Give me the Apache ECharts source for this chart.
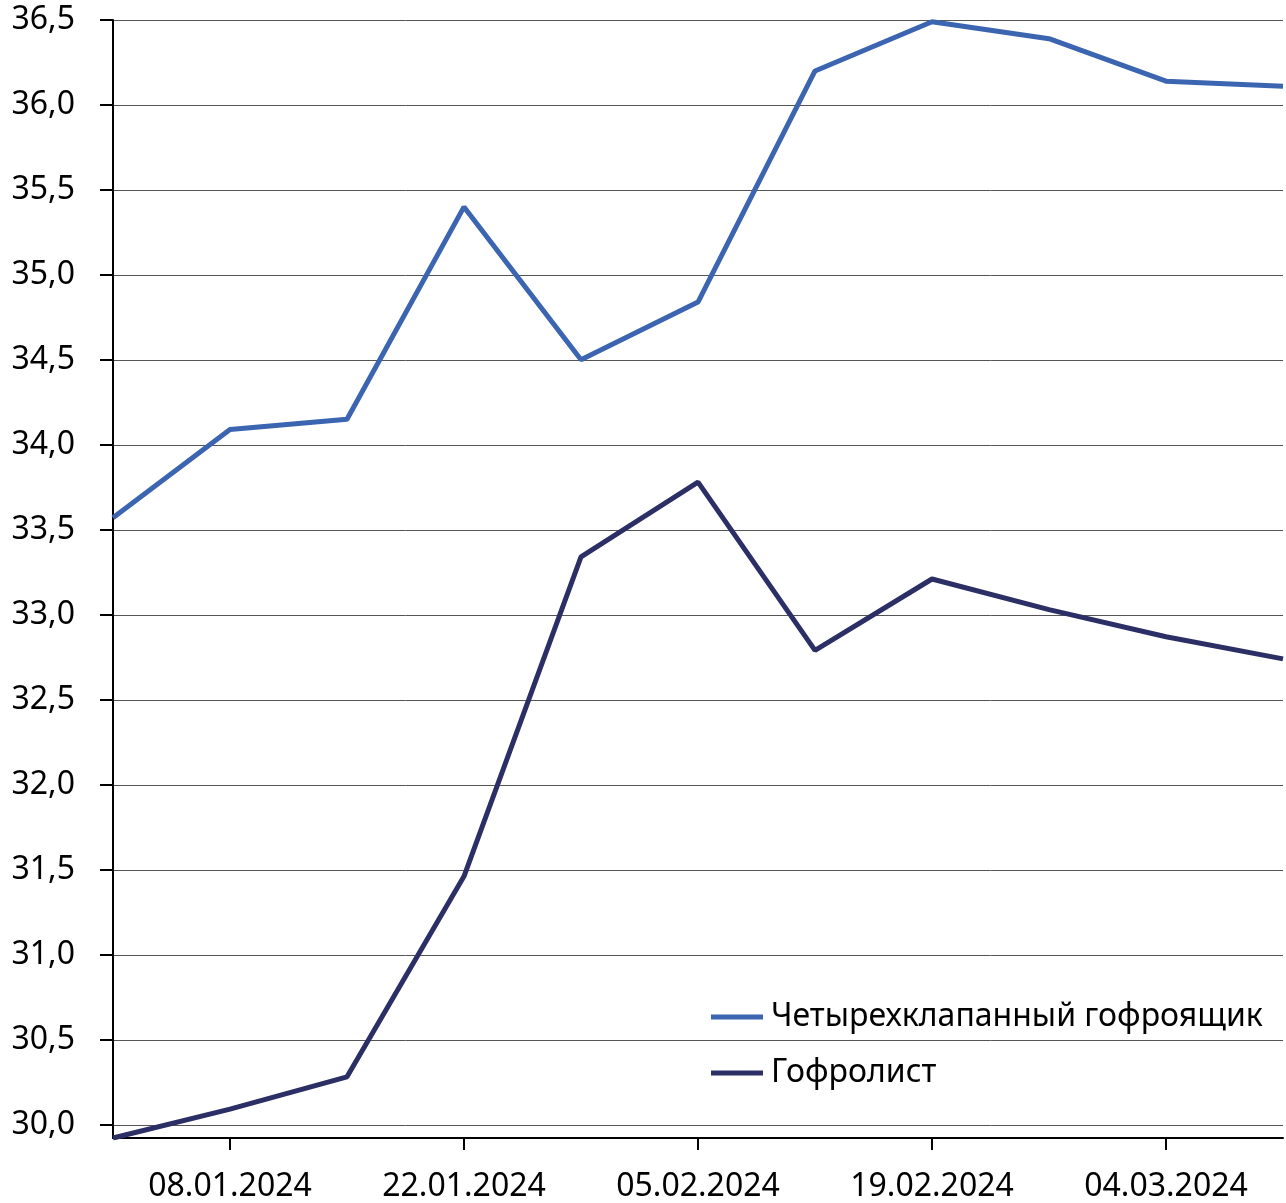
<!DOCTYPE html>
<html>
<head>
<meta charset="utf-8">
<script src="https://cdn.jsdelivr.net/npm/echarts@6/dist/echarts.min.js"></script>
<style>html,body{margin:0;padding:0;background:#fff}#c{width:1286px;height:1203px}</style>
</head>
<body>
<div id="c"></div>
<script>
const categories = ['01.01.2024','08.01.2024','15.01.2024','22.01.2024','29.01.2024','05.02.2024','12.02.2024','19.02.2024','26.02.2024','04.03.2024','11.03.2024'];
const seriesNames = ['Четырехклапанный гофроящик','Гофролист'];
const boxValues = [33.57, 34.09, 34.15, 35.40, 34.50, 34.84, 36.20, 36.49, 36.39, 36.14, 36.11];
const sheetValues = [29.92, 30.09, 30.28, 31.46, 33.34, 33.78, 32.79, 33.21, 33.03, 32.87, 32.74];
const yMinPlot = 29.92;
const yMin = 30.0, yMax = 36.5, yStep = 0.5;

const FONT = '"Noto Sans", "Open Sans", sans-serif';
const chart = echarts.init(document.getElementById('c'), null, {renderer:'canvas'});
const showOdd = (i) => i % 2 === 1;
chart.setOption({
  animation: false,
  backgroundColor: '#fff',
  grid: [
    {left: 113, right: 3, top: 20, height: 1118, containLabel: false},
    {left: 113, right: 3, top: 20, height: 1105, containLabel: false}
  ],
  legend: {
    orient: 'vertical', left: 706, top: 996, itemGap: 24,
    itemWidth: 52, itemHeight: 5, icon: 'rect',
    textStyle: {fontFamily: FONT, fontSize: 32, color: '#000', padding:[0,0,0,3]},
    data: seriesNames
  },
  xAxis: [
    {type: 'category', gridIndex: 0, data: categories, boundaryGap: false,
     axisLine: {lineStyle: {color: '#000', width: 2}},
     axisTick: {show: true, interval: showOdd, length: 12, lineStyle: {color: '#000', width: 2}},
     axisLabel: {interval: showOdd, fontFamily: FONT, fontSize: 32, color: '#000', margin: 33},
     splitLine: {show: false}},
    {type: 'category', gridIndex: 1, data: categories, boundaryGap: false, show: false}
  ],
  yAxis: [
    {type: 'value', gridIndex: 0, min: yMinPlot, max: yMax,
     axisLine: {show: true, lineStyle: {color: '#000', width: 2}},
     axisTick: {show: false}, axisLabel: {show: false}, splitLine: {show: false}},
    {type: 'value', gridIndex: 1, min: yMin, max: yMax, interval: yStep,
     axisLine: {show: false},
     axisTick: {show: true, length: 13, lineStyle: {color: '#000', width: 2}},
     axisLabel: {fontFamily: FONT, fontSize: 32, color: '#000', margin: 38,
       formatter: v => v.toFixed(1).replace('.', ',')},
     splitLine: {show: true, lineStyle: {color: '#555', width: 1}}}
  ],
  series: [
    {name: seriesNames[0], type: 'line', xAxisIndex: 0, yAxisIndex: 0, data: boxValues,
     symbol: 'none', lineStyle: {color: '#3B65B0', width: 5}, itemStyle: {color: '#3B65B0'}, z: 3},
    {name: seriesNames[1], type: 'line', xAxisIndex: 0, yAxisIndex: 0, data: sheetValues,
     symbol: 'none', lineStyle: {color: '#2B2F66', width: 5}, itemStyle: {color: '#2B2F66'}, z: 3}
  ]
});
</script>
</body>
</html>
